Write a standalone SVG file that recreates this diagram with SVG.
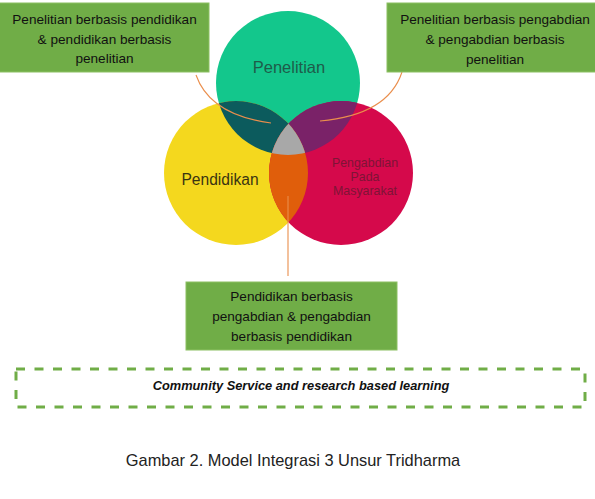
<svg xmlns="http://www.w3.org/2000/svg" width="595" height="499" viewBox="0 0 595 499">
<style>
.box{fill:#70AD47;stroke:#8CC063;stroke-width:1}
.bt{font-family:"Liberation Sans",Arial,sans-serif;font-size:13.6px;fill:#111;text-anchor:middle}
.lbl{font-family:"Liberation Sans",Arial,sans-serif;text-anchor:middle}
.con{fill:none;stroke:#EA8E4C;stroke-width:1.1}
</style>
<defs>
<circle id="cT" cx="288" cy="83" r="72"/>
<circle id="cL" cx="236" cy="173" r="72"/>
<circle id="cR" cx="341" cy="173" r="72"/>
<clipPath id="clipT"><use href="#cT"/></clipPath>
<clipPath id="clipL"><use href="#cL"/></clipPath>
</defs>
<rect width="595" height="499" fill="#fff"/>
<g id="venn">
<g id="penelitian">
<use href="#cT" fill="#13C78C"/>
</g>
<g id="pendidikan">
<use href="#cL" fill="#F4D81E"/>
</g>
<g id="pengabdian">
<use href="#cR" fill="#D5094B"/>
</g>
<g id="overlaps">
<g clip-path="url(#clipT)"><use href="#cL" fill="#0C5B5D"/><use href="#cR" fill="#7A2268"/></g>
<g clip-path="url(#clipL)"><use href="#cR" fill="#E05E0B"/></g>
<g clip-path="url(#clipT)"><g clip-path="url(#clipL)"><use href="#cR" fill="#A8A8A8"/></g></g>
</g>
<text class="lbl" x="289" y="73" font-size="16.5" fill="#1E5C4A">Penelitian</text>
<text class="lbl" x="220" y="185" font-size="15.6" fill="#3A3412">Pendidikan</text>
<text class="lbl" x="365" y="167" font-size="12.4" fill="#7E1436">Pengabdian</text>
<text class="lbl" x="365" y="181" font-size="12.4" fill="#7E1436">Pada</text>
<text class="lbl" x="365" y="195" font-size="12.4" fill="#7E1436">Masyarakat</text>
</g>
<g id="connectors">
<path class="con" d="M196,75 Q210,115 271,123"/>
<path class="con" d="M402,72 Q388,115 320,121"/>
<path class="con" d="M288,196 L288,276"/>
</g>
<g id="box-penelitian-pendidikan">
<rect class="box" x="-1" y="3" width="210" height="69"/>
<text class="bt" x="104.5" y="24">Penelitian berbasis pendidikan</text>
<text class="bt" x="104.5" y="43.5">&amp; pendidikan berbasis</text>
<text class="bt" x="104.5" y="63">penelitian</text>
</g>
<g id="box-penelitian-pengabdian">
<rect class="box" x="387" y="3" width="209" height="69"/>
<text class="bt" x="495" y="24">Penelitian berbasis pengabdian</text>
<text class="bt" x="495" y="44">&amp; pengabdian berbasis</text>
<text class="bt" x="495" y="64">penelitian</text>
</g>
<g id="box-pendidikan-pengabdian">
<rect class="box" x="186" y="282" width="211" height="68"/>
<text class="bt" x="291.5" y="301">Pendidikan berbasis</text>
<text class="bt" x="291.5" y="321">pengabdian &amp; pengabdian</text>
<text class="bt" x="291.5" y="341">berbasis pendidikan</text>
</g>
<g id="community-box">
<rect x="16" y="369" width="569" height="38" fill="none" stroke="#70AD47" stroke-width="3" stroke-dasharray="9 9.5"/>
<text x="301" y="389.5" font-family="'Liberation Sans',Arial,sans-serif" font-size="12.8" font-weight="bold" font-style="italic" fill="#111" text-anchor="middle">Community Service and research based learning</text>
</g>
<text id="caption" x="293" y="465.5" font-family="'Liberation Sans',Arial,sans-serif" font-size="16.4" fill="#222" text-anchor="middle">Gambar 2. Model Integrasi 3 Unsur Tridharma</text>
</svg>
